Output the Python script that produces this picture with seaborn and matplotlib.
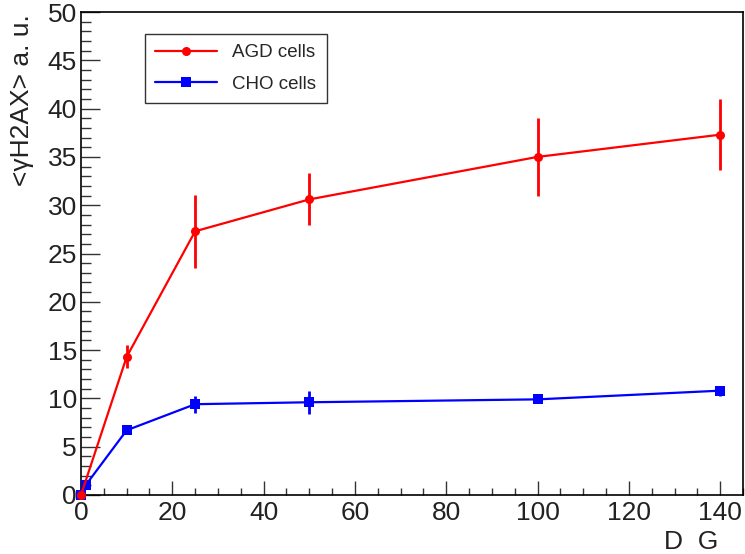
import pandas as pd
import matplotlib.pyplot as plt
import seaborn as sns
from matplotlib.ticker import MultipleLocator

# valores
dose = [0, 10, 25, 50, 100, 140]
agd_y = [0.0, 14.3, 27.3, 30.6, 35.0, 37.3]
agd_err = [0.0, 1.2, 3.8, 2.7, 4.0, 3.7]

dose_cho = [0, 1, 10, 25, 50, 100, 140]
cho_y = [0.0, 1.0, 6.7, 9.4, 9.6, 9.9, 10.8]
cho_err = [0.0, 0.0, 0.0, 0.9, 1.2, 0.3, 0.5]

labels = ["AGD cells", "CHO cells"]

df = pd.concat([
    pd.DataFrame({"dose": dose_cho, "val": cho_y, "err": cho_err, "cell": labels[1]}),
    pd.DataFrame({"dose": dose, "val": agd_y, "err": agd_err, "cell": labels[0]}),
])

sns.set_style("ticks")
plt.rcParams['font.family'] = ['Liberation Sans', 'DejaVu Sans']

fig = plt.figure(figsize=(7.45, 5.54), dpi=100)
ax = fig.add_axes([81 / 745, 59 / 554, 662 / 745, 483 / 554])

colores = {labels[0]: "#ff0000", labels[1]: "#0000ff"}
for cell, g in df.groupby("cell"):
    ax.errorbar(g["dose"], g["val"], yerr=g["err"], fmt="none",
                ecolor=colores[cell], elinewidth=2, capsize=0, zorder=2)

sns.lineplot(data=df, x="dose", y="val", hue="cell", style="cell",
             hue_order=labels[::-1], style_order=labels[::-1],
             palette=colores, markers={labels[0]: "o", labels[1]: "s"},
             dashes=False, linewidth=1.6, markersize=6.5, markeredgewidth=0,
             ax=ax, zorder=3)
for ln in ax.lines:
    ln.set_clip_on(False)
    if ln.get_color() == "#ff0000":
        ln.set_zorder(4)

ax.set_xlim(0, 145)
ax.set_ylim(0, 50)
ax.xaxis.set_major_locator(MultipleLocator(20))
ax.xaxis.set_minor_locator(MultipleLocator(5))
ax.yaxis.set_major_locator(MultipleLocator(5))
ax.yaxis.set_minor_locator(MultipleLocator(1))
ax.tick_params(axis="both", which="both", direction="in", colors="#333333",
               labelcolor="#222222", labelsize=19, width=1,
               bottom=True, left=True, top=False, right=False)
ax.tick_params(axis="x", which="major", length=10, pad=4)
ax.tick_params(axis="x", which="minor", length=5)
ax.tick_params(axis="y", which="major", length=14, pad=3)
ax.tick_params(axis="y", which="minor", length=7)
for s in ax.spines.values():
    s.set_visible(True)
    s.set_color("black")
    s.set_linewidth(1.2)

ax.set_xlabel("")
ax.set_ylabel("")
fig.text(718 / 745, 1 - 542 / 554, "D  G", ha="right", va="center",
         fontsize=19, color="#222222")
fig.text(22 / 745, 1 - 100 / 554, "<\u03b3H2AX> a. u.", rotation=90,
         ha="center", va="center", fontsize=19, color="#222222")

handles, lbls = ax.get_legend_handles_labels()
order = [lbls.index(l) for l in labels]
leg = ax.legend([handles[i] for i in order], labels,
                loc="upper left", bbox_to_anchor=(145 / 745, 1 - 34 / 554),
                bbox_transform=fig.transFigure, fontsize=13.5, frameon=True,
                fancybox=False, edgecolor="black", handlelength=3.3,
                borderpad=0.55, labelspacing=0.75, handletextpad=0.8,
                borderaxespad=0)
leg.get_frame().set_linewidth(1.0)
leg.set_zorder(10)

fig.savefig("out.png", dpi=100)
